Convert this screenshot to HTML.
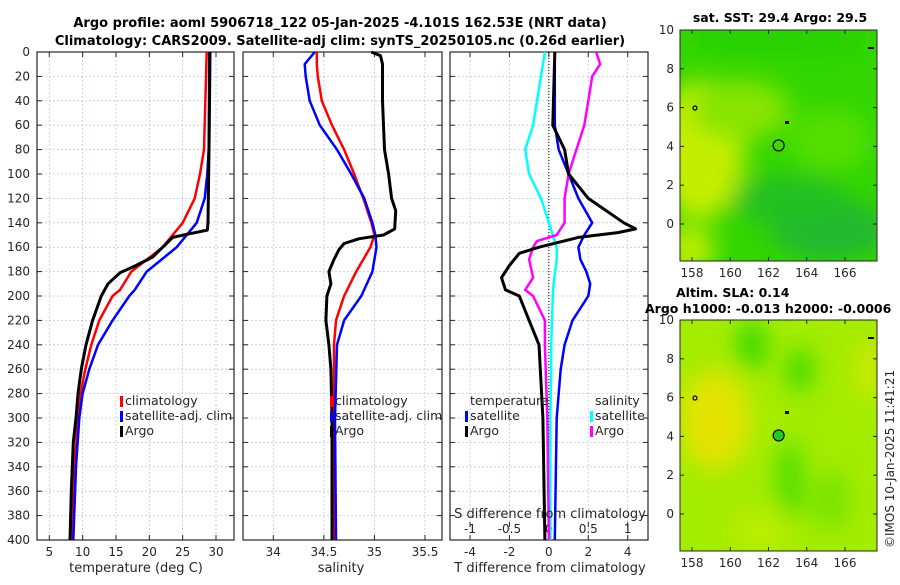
<!DOCTYPE html>
<html><head><meta charset="utf-8"><style>
body{margin:0;background:#fff;}
svg text{font-family:"DejaVu Sans","Liberation Sans",sans-serif;fill:#262626;}
</style></head><body>
<svg id="fig" width="900" height="580" xmlns="http://www.w3.org/2000/svg">
<defs>
<filter id="bl" x="-50%" y="-50%" width="200%" height="200%"><feGaussianBlur stdDeviation="12"/></filter>
<clipPath id="cm1"><rect x="680" y="30" width="197" height="231"/></clipPath>
<clipPath id="cm2"><rect x="680" y="320" width="197" height="231"/></clipPath>
</defs>
<text x="340" y="27" text-anchor="middle" font-size="13" font-weight="bold" style="fill:#000">Argo profile: aoml 5906718_122 05-Jan-2025 -4.101S 162.53E (NRT data)</text>
<text x="340" y="45" text-anchor="middle" font-size="13" font-weight="bold" style="fill:#000">Climatology: CARS2009. Satellite-adj clim: synTS_20250105.nc (0.26d earlier)</text>
<g id="p1"></g>
<g id="p2"></g>
<g id="p3"></g>
<g id="m1">
 <g clip-path="url(#cm1)">
  <rect x="680" y="30" width="197" height="231" fill="#33d600"/>
  <g filter="url(#bl)">
   <ellipse cx="700" cy="150" rx="45" ry="70" fill="#c4ee00"/>
   <ellipse cx="740" cy="110" rx="50" ry="30" fill="#88e400"/>
   <ellipse cx="690" cy="250" rx="25" ry="25" fill="#bbee00"/>
   <ellipse cx="830" cy="230" rx="60" ry="30" fill="#22b833"/>
   <ellipse cx="790" cy="200" rx="60" ry="25" fill="#22c020"/>
   <ellipse cx="830" cy="140" rx="40" ry="30" fill="#55e000"/>
   <ellipse cx="780" cy="40" rx="90" ry="12" fill="#22d000"/>
  </g>
 </g>
</g>
<g id="m2">
 <g clip-path="url(#cm2)">
  <rect x="680" y="320" width="197" height="231" fill="#a4ec00"/>
  <g filter="url(#bl)">
   <ellipse cx="715" cy="420" rx="35" ry="50" fill="#e4e400"/>
   <ellipse cx="752" cy="345" rx="14" ry="25" fill="#33d800"/>
   <ellipse cx="800" cy="370" rx="12" ry="22" fill="#33d800"/>
   <ellipse cx="790" cy="480" rx="12" ry="40" fill="#44dd00"/>
   <ellipse cx="870" cy="370" rx="12" ry="30" fill="#d4e800"/>
   <ellipse cx="830" cy="500" rx="20" ry="30" fill="#77e400"/>
   <ellipse cx="760" cy="530" rx="30" ry="20" fill="#bbee00"/>
  </g>
 </g>
</g>
<text transform="translate(894,548) rotate(-90)" font-size="12">©IMOS 10-Jan-2025 11:41:21</text>
</svg>
<script>
// ----- data (pressure in dbar) -----
const tDepth = [0,80,100,120,140,160,180,195,200,220,240,260,280,300,340,400];
const tClim  = [28.6,28.2,27.6,26.8,25.0,22.0,17.3,15.6,14.5,12.5,11.3,10.4,9.7,9.3,8.8,8.4];
const tSat   = [29.0,28.9,28.7,28.3,27.1,24.1,19.6,17.8,17.0,14.5,12.3,11.0,10.0,9.5,9.0,8.6];
const argoTDepth = [0,60,140,146,149,152,160,168,175,181,190,200,220,240,260,280,300,320,360,400];
const argoT      = [29.1,29.0,28.8,28.7,26.0,23.5,22.0,20.5,18.0,15.6,13.8,12.8,11.5,10.5,9.8,9.3,9.0,8.6,8.3,8.1];
const sDepth = [0,10,20,40,60,80,100,120,140,150,160,180,200,220,240,300,400];
const sClim  = [34.43,34.43,34.44,34.48,34.58,34.70,34.80,34.89,34.97,35.00,34.96,34.82,34.70,34.62,34.60,34.60,34.60];
const sSat   = [34.41,34.31,34.32,34.36,34.46,34.63,34.77,34.90,34.98,35.01,35.02,34.98,34.87,34.70,34.63,34.61,34.62];
const argoSDepth = [0,3,10,40,80,100,120,130,145,150,153,157,162,170,180,190,200,220,240,260,300,400];
const argoS      = [34.97,35.06,35.08,35.08,35.10,35.14,35.17,35.21,35.20,35.09,34.85,34.70,34.65,34.60,34.55,34.57,34.53,34.52,34.55,34.57,34.58,34.58];
const dDepth = [0,60,80,100,120,140,150,160,170,180,190,200,220,240,260,300,400];
const dTSat  = [0.3,0.3,0.5,1.0,1.5,2.2,1.8,1.5,1.6,1.9,2.1,2.0,1.2,0.8,0.6,0.4,0.3];
const dSSat  = [-0.05,-0.2,-0.3,-0.25,-0.1,0.0,0.05,0.1,0.1,0.08,0.06,0.05,0.04,0.03,0.03,0.02,0.02];
const dArgoDepth = [0,60,80,100,120,140,145,148,152,160,165,175,185,195,200,220,240,300,400];
const dTArgo = [0.3,0.2,0.8,1.0,2.0,3.8,4.4,3.5,1.5,-0.5,-1.5,-2.0,-2.4,-2.2,-1.5,-1.0,-0.5,-0.3,-0.2];
const dSArgoDepth = [0,10,20,40,60,80,100,120,140,150,155,160,170,185,195,200,220,240,300,400];
const dSArgo = [0.60,0.65,0.55,0.50,0.45,0.35,0.25,0.20,0.20,0.10,-0.15,-0.20,-0.25,-0.20,-0.30,-0.20,-0.05,-0.05,-0.02,0.0];
const depthTicks = [0,20,40,60,80,100,120,140,160,180,200,220,240,260,280,300,320,340,360,380,400];
const tTicks = [5,10,15,20,25,30];
const sTicks = [34,34.5,35,35.5];
const dTTicks = [-4,-2,0,2,4];
const dSTicks = [-1,-0.5,0,0.5,1];
const lonTicks = [158,160,162,164,166];
const latTicks = [0,2,4,6,8,10];
const argoLon = 162.53, argoLat = 4.05;

const NS="http://www.w3.org/2000/svg";
function mk(tag, attrs, parent){const e=document.createElementNS(NS,tag);for(const k in attrs)e.setAttribute(k,attrs[k]);parent.appendChild(e);return e;}
const Y0=52, Y1=540;
const yP = p => Y0 + (p/400)*(Y1-Y0);
function lin(d0,d1,r0,r1){return v=>r0+(v-d0)/(d1-d0)*(r1-r0);}

function panel(g, x0, x1, xs, ticks, labelY){
  for(const t of ticks){mk('line',{x1:xs(t),x2:xs(t),y1:Y0,y2:Y1,stroke:'#b8c8f0','stroke-dasharray':'2,2','stroke-width':0.8},g);}
  for(const d of depthTicks){mk('line',{x1:x0,x2:x1,y1:yP(d),y2:yP(d),stroke:'#b8c8f0','stroke-dasharray':'2,2','stroke-width':0.8},g);}
  for(const d of depthTicks){mk('line',{x1:x0,x2:x0+5,y1:yP(d),y2:yP(d),stroke:'#262626'},g);mk('line',{x1:x1-5,x2:x1,y1:yP(d),y2:yP(d),stroke:'#262626'},g);}
  for(const t of ticks){mk('line',{x1:xs(t),x2:xs(t),y1:Y1,y2:Y1-5,stroke:'#262626'},g);mk('line',{x1:xs(t),x2:xs(t),y1:Y0,y2:Y0+5,stroke:'#262626'},g);
    const tx=mk('text',{x:xs(t),y:labelY,'text-anchor':'middle','font-size':12},g);tx.textContent=t;}
  mk('rect',{x:x0,y:Y0,width:x1-x0,height:Y1-Y0,fill:'none',stroke:'#262626','stroke-width':1.2},g);
}
function curve(g, vals, depths, xs, color, w, name){
  const pts=vals.map((v,i)=>xs(v).toFixed(1)+','+yP(depths[i]).toFixed(1)).join(' ');
  const e=mk('polyline',{points:pts,fill:'none',stroke:color,'stroke-width':w,'stroke-linejoin':'round'},g);
  
  
}
function legend(g, x, y, color, label, name){
  const r=mk('rect',{x:x,y:y-9,width:3,height:11,fill:color},g);
  const t=mk('text',{x:x+5,y:y,'font-size':12.5},g);t.textContent=label;
  
  
}
function txt(g,x,y,s,opt){const t=mk('text',Object.assign({x:x,y:y,'font-size':12.5},opt||{}),g);t.textContent=s;return t;}

// Panel 1
const p1=document.getElementById('p1');
const xT=lin(5,30,49.3,216);
panel(p1,37,234,xT,tTicks,556);
for(const d of depthTicks){const t=mk('text',{x:30,y:yP(d)+4,'text-anchor':'end','font-size':12},p1);t.textContent=d;}
curve(p1,tClim,tDepth,xT,'#ff0000',2.5,'temp-climatology-line');
curve(p1,tSat,tDepth,xT,'#0000ff',2.5,'temp-satellite-line');
curve(p1,argoT,argoTDepth,xT,'#000000',3,'temp-argo-line');
legend(p1,120,405,'#ff0000','climatology','legend-climatology');
legend(p1,120,420,'#0000ff','satellite-adj. clim','legend-satellite');
legend(p1,120,435,'#000000','Argo','legend-argo');
txt(p1,136,572,'temperature (deg C)',{'text-anchor':'middle','font-size':13});

// Panel 2
const p2=document.getElementById('p2');
const xS=lin(34,35.5,273.3,425);
panel(p2,243,442,xS,sTicks,556);
curve(p2,sClim,sDepth,xS,'#ff0000',2.5,'sal-climatology-line');
curve(p2,sSat,sDepth,xS,'#0000ff',2.5,'sal-satellite-line');
curve(p2,argoS,argoSDepth,xS,'#000000',3,'sal-argo-line');
legend(p2,330,405,'#ff0000','climatology','legend-climatology-2');
legend(p2,330,420,'#0000ff','satellite-adj. clim','legend-satellite-2');
legend(p2,330,435,'#000000','Argo','legend-argo-2');
txt(p2,341,572,'salinity',{'text-anchor':'middle','font-size':13});

// Panel 3
const p3=document.getElementById('p3');
const xD=lin(-4,4,470,627.7);
const xDS=lin(-1,1,470,627.7);
panel(p3,450,648,xD,dTTicks,556);
mk('line',{x1:xD(0),x2:xD(0),y1:Y0,y2:Y1,stroke:'#000','stroke-dasharray':'1,2','stroke-width':1},p3);
for(const t of dSTicks){mk('line',{x1:xDS(t),x2:xDS(t),y1:522,y2:527,stroke:'#262626'},p3);
  const tx=mk('text',{x:xDS(t),y:533,'text-anchor':'middle','font-size':12},p3);tx.textContent=t;}
curve(p3,dTSat,dDepth,xD,'#0000ff',2.5,'tdiff-satellite-line');
curve(p3,dSSat,dDepth,xDS,'#00ffff',2.5,'sdiff-satellite-line');
curve(p3,dSArgo,dSArgoDepth,xDS,'#ff00ff',2.5,'sdiff-argo-line');
curve(p3,dTArgo,dArgoDepth,xD,'#000000',3,'tdiff-argo-line');
txt(p3,470,405,'temperature');
txt(p3,595,405,'salinity');
legend(p3,465,420,'#0000ff','satellite','legend-t-satellite');
legend(p3,465,435,'#000000','Argo','legend-t-argo');
legend(p3,590,420,'#00ffff','satellite','legend-s-satellite');
legend(p3,590,435,'#ff00ff','Argo','legend-s-argo');
txt(p3,550,518,'S difference from climatology',{'text-anchor':'middle','font-size':13});
txt(p3,550,572,'T difference from climatology',{'text-anchor':'middle','font-size':13});

// Maps
function mapAxes(g, top, bottom){
  const xL=lin(158,166,692,845);
  const yL=lin(0,10,top+194,top);
  mk('rect',{x:680,y:top,width:197,height:bottom-top,fill:'none',stroke:'#262626','stroke-width':1},g);
  for(const t of lonTicks){mk('line',{x1:xL(t),x2:xL(t),y1:bottom,y2:bottom-4,stroke:'#262626'},g);mk('line',{x1:xL(t),x2:xL(t),y1:top,y2:top+4,stroke:'#262626'},g);
    const tx=mk('text',{x:xL(t),y:bottom+16,'text-anchor':'middle','font-size':12},g);tx.textContent=t;}
  for(const t of latTicks){mk('line',{x1:680,x2:684,y1:yL(t),y2:yL(t),stroke:'#262626'},g);mk('line',{x1:873,x2:877,y1:yL(t),y2:yL(t),stroke:'#262626'},g);
    const tx=mk('text',{x:674,y:yL(t)+4,'text-anchor':'end','font-size':12},g);tx.textContent=t;}
  return [xL,yL];
}
const m1=document.getElementById('m1');
const [xL1,yL1]=mapAxes(m1,30,261);
txt(m1,780,22,'sat. SST: 29.4 Argo: 29.5',{'text-anchor':'middle','font-size':12.5,'font-weight':'bold',style:'fill:#000'});
const c1=mk('circle',{cx:xL1(argoLon),cy:yL1(argoLat),r:5.5,fill:'none',stroke:'#000','stroke-width':1.2},m1);


txt(m1,676,297,'Altim. SLA: 0.14',{'font-size':12.5,'font-weight':'bold',style:'fill:#000'});
const m2=document.getElementById('m2');
const [xL2,yL2]=mapAxes(m2,320,551);
txt(m2,645,313,'Argo h1000: -0.013 h2000: -0.0006',{'font-size':12.5,'font-weight':'bold',style:'fill:#000'});
const c2=mk('circle',{cx:xL2(argoLon),cy:yL2(argoLat),r:5.5,fill:'#22cc22',stroke:'#000','stroke-width':1.2},m2);


for(const g of [[m1,30],[m2,320]]){
  mk('circle',{cx:695,cy:g[1]+78,r:2,fill:'none',stroke:'#000','stroke-width':1.2},g[0]);
  mk('rect',{x:785,y:g[1]+91,width:4,height:3,fill:'#000'},g[0]);
  mk('rect',{x:868,y:g[1]+17,width:6,height:2,fill:'#000'},g[0]);
}
</script>
</body></html>
